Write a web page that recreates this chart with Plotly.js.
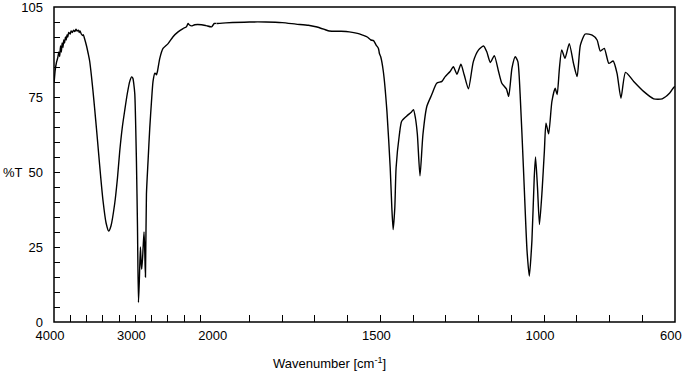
<!DOCTYPE html>
<html>
<head>
<meta charset="utf-8">
<script src="https://cdn.plot.ly/plotly-3.0.1.min.js"></script>
<style>html,body{margin:0;padding:0;background:#fff;}#chart{width:683px;height:375px;}</style>
</head>
<body>
<div id="chart"></div>
<script>
// Wavenumber region 4000-2000 cm-1 (compressed scale)
const highWn = [3998,3985,3970,3955,3940,3930,3920,3910,3900,3890,3880,3870,3860,3850,3840,3830,3820,3800,3790,3775,3760,3745,3730,3715,3700,3690,3680,3665,3650,3640,3625,3600,3580,3562,3540,3521,3500,3475,3451,3425,3398,3360,3328,3300,3254,3220,3192,3160,3131,3100,3069,3045,3030,3020,3007,2987,2974,2962,2950,2938,2930,2922,2910,2894,2885,2876,2864,2844,2823,2802,2783,2762,2750,2741,2729,2700,2660,2598,2537,2475,2414,2372,2352,2335,2310,2270,2187,2130,2064,2030,2000];
const highT  = [80,84,86.5,88,90,88.5,92,90,93,91.5,94,93,95,94,95.8,95,96.5,96,97,96.5,97.3,96.8,97.6,97,97.3,96.5,97,96,95.5,95.8,94.5,92,89.5,87,82,77,71,63.5,56,48,40.5,33,30.3,32,39.5,48,57,65,70.5,76,80.2,81.7,81.2,79.5,76,53.7,31.6,6.5,15,25,20,17.6,22,30,24,15,42.6,53.7,64.7,73.5,80.2,82.9,82.8,82.4,83.5,87.9,91.2,92.8,95.1,96.7,97.8,98.4,99.5,99,98.7,99.1,99.1,98.8,98.4,99.5,99.5];
// Wavenumber region 2000-600 cm-1 (expanded scale)
const lowWn = [2000,1972,1900,1850,1800,1758,1720,1697,1670,1656,1620,1595,1570,1554,1540,1529,1521,1513,1506,1503,1499,1491,1480,1470,1465,1461,1456,1452,1442,1435,1420,1405,1399,1393,1387,1379,1370,1358,1343,1328,1312,1302,1287,1277,1266,1254,1244,1231,1216,1200,1185,1175,1164,1152,1139,1129,1115,1108,1098,1088,1080,1073,1063,1052,1045,1037,1030,1026,1020,1014,1006,999,994,986,976,966,960,953,946,936,923,910,899,889,874,853,838,828,816,802,789,777,765,751,726,695,665,639,616,604,600];
const lowT  = [99.5,99.7,100,100,99.8,99.3,98.9,98.4,97.5,97,96.9,96.7,96.2,95.6,95,94,93.8,92.3,91.2,89.5,88.4,83.5,70.2,51.4,38,30.8,38,51.4,62.5,66.9,68.6,70,70.8,68,62.5,48.7,62.5,71.9,75.8,79.6,80.2,81.8,83.5,85.1,82.6,85.9,82.4,77.7,86.8,90.7,92,90.1,86.5,88.8,83.5,79.6,77.7,75.2,84.6,88.4,86.8,75.8,51.4,23.8,15.3,27.2,48.1,55,44.8,32.5,43.7,57,66.3,62.7,73.5,77.9,75.8,84.6,90.7,87.9,92.8,86.2,81.8,92.3,96,95.6,94,90.3,91.2,86.2,87,82.9,74.6,83.2,80.2,76.8,74.4,74.4,76.3,78.2,78.5];

// Tick marks and labels
const xTicksHigh = [4000,3800,3600,3400,3200,3000,2800,2600,2400,2200,2000];
const xLabelsHigh = ['4000','','','','','3000','','','','','2000'];
const xMajorHigh = [3000];
const xTicksLow = [1900,1800,1700,1600,1500,1400,1300,1200,1100,1000,900,800,700,600];
const xLabelsLow = ['','','','','1500','','','','','1000','','','','600'];
const xMajorLow = [2000,1500,1000];
const yTicks = [0,5,10,15,20,25,30,35,40,45,50,55,60,65,70,75,80,85,90,95,100,105];
const yLabels = ['0','','','','','25','','','','','50','','','','','75','','','','','','105'];
const yMajor = [25,50,75];

const font = {family: 'Liberation Sans, Arial, sans-serif', size: 13, color: '#000'};
const lineStyle = {color: '#000', width: 1.4, shape: 'spline', smoothing: 0.6};

const traces = [
  {x: highWn, y: highT, xaxis: 'x', yaxis: 'y', mode: 'lines', line: lineStyle, hoverinfo: 'skip'},
  {x: lowWn, y: lowT, xaxis: 'x2', yaxis: 'y', mode: 'lines', line: lineStyle, hoverinfo: 'skip'}
];

const split = 162.5 / 620.1;
const yRange = [-0.001, 105.001];
const common = {showgrid: false, zeroline: false, showline: false, tickfont: font, tickcolor: '#000', tickwidth: 1, ticks: 'inside', tickmode: 'array', ticklabeloverflow: 'allow'};

const layout = {
  width: 683, height: 375,
  margin: {l: 54, r: 8, t: 7, b: 53},
  paper_bgcolor: '#fff', plot_bgcolor: '#fff',
  showlegend: false,
  font: font,
  xaxis: Object.assign({}, common, {
    domain: [0, split], range: [4000.1, 2000], anchor: 'y',
    tickvals: xTicksHigh, ticktext: xLabelsHigh, ticklen: 7, ticklabelstandoff: 4, ticklabelshift: 4
  }),
  xaxis2: Object.assign({}, common, {
    domain: [split, 1], range: [2000, 599.9], anchor: 'y',
    tickvals: xTicksLow, ticktext: xLabelsLow, ticklen: 7, ticklabelstandoff: 4, ticklabelshift: 4
  }),
  xaxis3: Object.assign({}, common, {
    overlaying: 'x', range: [4000.1, 2000], anchor: 'y', side: 'bottom',
    tickvals: xMajorHigh, ticklen: 10, showticklabels: false
  }),
  xaxis4: Object.assign({}, common, {
    overlaying: 'x2', range: [2000, 599.9], anchor: 'y', side: 'bottom',
    tickvals: xMajorLow, ticklen: 10, showticklabels: false
  }),
  yaxis: Object.assign({}, common, {
    domain: [0, 1], range: yRange, anchor: 'x',
    tickvals: yTicks, ticktext: yLabels, ticklen: 6, ticklabelstandoff: 10
  }),
  yaxis2: Object.assign({}, common, {
    overlaying: 'y', range: yRange, anchor: 'x', side: 'left',
    tickvals: yMajor, ticklen: 8, showticklabels: false
  }),
  shapes: [
    {type: 'rect', xref: 'paper', yref: 'paper', x0: 0, x1: 1, y0: 0, y1: 1, line: {color: '#000', width: 1.5}, fillcolor: 'rgba(0,0,0,0)', layer: 'above'}
  ],
  annotations: [
    {text: '%T', xref: 'paper', yref: 'y', x: -0.085, y: 50, xanchor: 'left', yanchor: 'middle', showarrow: false, font: font},
    {text: 'Wavenumber [cm<sup>-1</sup>]', xref: 'paper', yref: 'paper', x: 0.443, y: -0.13, xanchor: 'center', yanchor: 'middle', showarrow: false, font: font}
  ]
};

Plotly.newPlot('chart', traces, layout, {displayModeBar: false, staticPlot: true});
</script>
</body>
</html>
